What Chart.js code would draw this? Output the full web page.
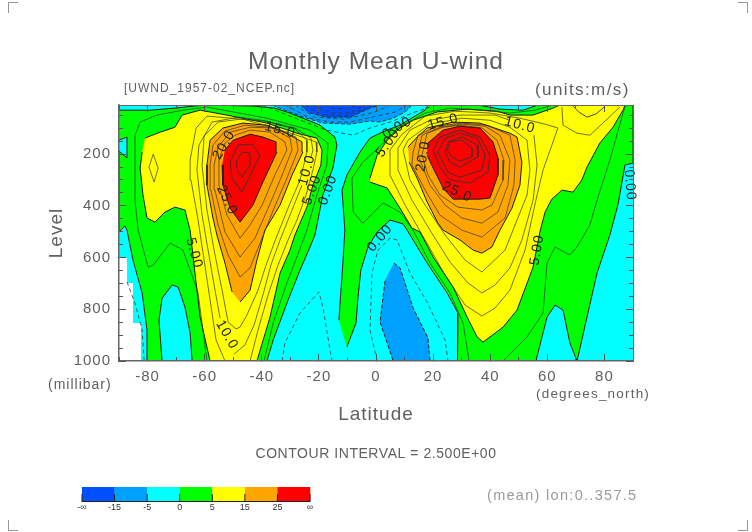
<!DOCTYPE html>
<html><head><meta charset="utf-8">
<style>
html,body{margin:0;padding:0;background:#fff;width:752px;height:532px;overflow:hidden}
#wrap{position:relative;width:752px;height:532px}
canvas{display:block}
.c{position:absolute;width:9px;height:10px;border:0 solid #999}
</style>
<script src="https://cdn.jsdelivr.net/npm/chart.js@4"></script>
</head><body><div id="wrap">
<canvas id="chart" width="752" height="532"></canvas>
<div class="c" style="left:8px;top:2px;border-left-width:1px;border-top-width:1px"></div>
<div class="c" style="left:738px;top:2px;border-right-width:1px;border-top-width:1px"></div>
<div class="c" style="left:8px;top:520px;border-left-width:1px;border-bottom-width:1px"></div>
<div class="c" style="left:738px;top:520px;border-right-width:1px;border-bottom-width:1px"></div>
</div>
<script>
// ---------- axis values ----------
const latLabels=[-80,-60,-40,-20,0,20,40,60,80];
const latMinor=[-90,-70,-50,-30,-10,10,30,50,70,90];
const levelLabels=[200,400,600,800,1000];
const levelMinor=[50,100,150,250,300,350,450,500,550,650,700,750,850,900,950];

// ---------- filled contour regions, [latitude, level] ----------
const cyanAll=[[-90,10],[90,10],[90,1000],[-90,1000]];
const missing=[[-90,602],[-87.2,602],[-87.2,698],[-85.1,698],[-85.1,853],[-82.3,853],[-82.3,1000],[-90,1000]];
const greenLeft=[[-90,30],[-79.1,30],[-70.4,22],[-59.9,10],[-43.1,14],[-35.4,22],[-30.1,41],[-19.6,88],[-14.4,134],[-13.7,165],[-15.1,254],[-18.6,358],[-21.4,513],[-23.1,559],[-26.6,648],[-31.2,776],[-36,919],[-38.2,1000],[-80.5,1000],[-80.2,880],[-81.9,737],[-85.1,610],[-87.2,494],[-87.9,478],[-90,501],[-90,188],[-87.2,215],[-87.2,134],[-90,146]];
const cyanArch=[[-74.9,1000],[-76,842],[-74.9,757],[-71.4,706],[-69.3,714],[-66.9,791],[-65.1,892],[-64.4,1000]];
const greenRight=[[-10.2,946],[-7,853],[-6.3,753],[-5.3,648],[-2.8,559],[0.4,501],[4.9,455],[9.5,470],[10.9,494],[17.9,621],[24.9,737],[28.7,814],[28.4,930],[28.7,1000],[56,1000],[59.9,830],[62.7,784],[65.5,803],[67.9,930],[70.4,1000],[73.9,830],[77.4,660],[81.9,513],[84.7,397],[87.2,242],[90,235],[90,10],[18.2,10],[17.2,30],[13,57],[8.4,88],[3.9,107],[1.4,119],[-2.1,138],[-5.6,192],[-10.2,281],[-11.9,339],[-10.9,494],[-11.6,621],[-13,842]];
const cyanLens=[[35.7,10],[43.4,26],[51.5,30],[55.7,14],[56.4,10]];
const yellowLeft=[[-80.9,138],[-75.6,115],[-70.4,96],[-67.9,49],[-61.6,30],[-52.2,49],[-38.2,80],[-27.7,119],[-20.7,138],[-18.9,184],[-19.3,242],[-22.1,320],[-24.2,405],[-28.4,513],[-30.1,571],[-33.6,660],[-37.1,830],[-41.7,1000],[-58.1,1000],[-61.6,830],[-63.4,660],[-65.1,494],[-66.9,416],[-70.4,405],[-73.9,424],[-77.4,463],[-80.2,447],[-81.6,358],[-82.6,254],[-81.9,192]];
const orangeLeft=[[-47.6,772],[-44.1,726],[-41.7,610],[-38.9,494],[-33.6,397],[-29.4,281],[-25.6,192],[-25.9,153],[-31.2,119],[-38.2,88],[-46.6,80],[-53.6,99],[-58.1,146],[-59.2,242],[-59.2,320],[-57.1,447],[-55.7,513],[-52.9,621],[-50.4,733]];
const redLeft=[[-53.9,242],[-53.6,320],[-51.1,409],[-47.6,463],[-43.1,397],[-39.6,308],[-34.7,192],[-35,153],[-39.6,134],[-44.1,123],[-50,146],[-52.9,184]];
const yellowRight=[[-2.1,293],[0.4,204],[3.9,146],[8.4,99],[13,69],[21.4,37],[31.9,26],[42.4,34],[46.9,49],[55,49],[62,22],[64.4,10],[87.2,10],[86.5,30],[83,96],[78.4,157],[73.9,250],[72.1,300],[69,347],[65.1,339],[61.6,374],[59.2,424],[57.4,501],[55,637],[49.4,803],[44.5,869],[37.5,927],[35.4,907],[31.9,830],[27,714],[20,598],[15.4,501],[12.6,486],[8.4,409],[3.9,331],[-2.1,308]];
const orangeRight=[[11.2,173],[14.4,134],[17.9,99],[27,76],[36.4,80],[46.9,119],[49.4,134],[51.1,231],[50.4,320],[47.6,409],[43.4,494],[40.6,559],[37.1,583],[34,571],[29.4,532],[23.5,494],[21.7,467],[17.9,385],[14.4,293],[11.6,231]];
const redRight=[[17.9,173],[18.2,157],[23.5,107],[29.4,92],[36.4,99],[41,153],[42.7,215],[42.7,281],[39.9,370],[36.4,374],[27,374],[23.5,331],[20,254],[17.9,204]];
const azureLow=[[6.3,621],[8.4,640],[13,795],[18.2,911],[18.9,1000],[6,1000],[3.9,930],[1.4,849],[3.2,687]];
const azureTop=[[-36.4,10],[-34.7,18],[-25.6,57],[-18.6,80],[-9.1,84],[-2.1,72],[1.4,76],[6,61],[10.2,37],[12.6,10]];
const blueTop=[[-26.6,10],[-23.1,41],[-17.2,57],[-9.1,57],[-2.1,22],[1.4,10]];

// ---------- contour lines, [latitude, level] ----------
const c25L=[[-59.2,1000],[-62.3,737],[-65.1,648],[-67.6,571],[-72.1,544],[-78,629],[-79.8,637],[-83.3,494],[-84.4,378],[-84.4,127],[-82.6,76],[-76.7,49],[-67.6,30],[-59.2,18],[-38.2,61],[-23.1,107],[-16.8,157],[-17.2,242],[-20.7,358],[-24.2,494],[-27.7,598],[-31.2,698],[-36,853],[-39.2,1000]];
const c75Lens=[[-79.5,250],[-78,200],[-76.3,254],[-77.7,308],[-79.5,250]];
const c75L=[[-52.9,1000],[-56,919],[-58.1,764],[-60.2,610],[-62.3,455],[-64.8,300],[-65.1,223],[-63,99],[-59.2,53],[-46.6,65],[-38.9,88],[-27.7,127],[-21,153],[-20.7,192],[-22.1,262],[-24.5,358],[-27.7,455],[-30.8,532],[-34.3,629],[-37.8,745],[-41.3,880],[-44.1,1000]];
const c10La=[[-54.6,834],[-56.7,706],[-58.8,571],[-60.9,436],[-62.7,262],[-62,165],[-57.4,76],[-48.3,57],[-39.9,69],[-28.4,99],[-22.8,138],[-22.1,184],[-22.8,215]];
const c10Lb=[[-25.9,320],[-29.4,416],[-33.6,532],[-36.8,629],[-39.6,745],[-42.7,861],[-45.9,938],[-49.7,973]];
const c125L=[[-49,876],[-51.8,849],[-53.9,726],[-56.7,571],[-59.2,416],[-60.9,246],[-60.2,130],[-55.3,76],[-47.6,65],[-38.9,72],[-28.4,103],[-24.2,146],[-24.2,192],[-26.6,300],[-30.8,409],[-35,525],[-38.5,629],[-41.3,726],[-45.2,822],[-47.6,869],[-49,876]];
const c175L=[[-47.6,675],[-51.8,590],[-55.3,474],[-57.8,339],[-58.1,242],[-57.1,165],[-52.9,111],[-45.9,88],[-37.1,96],[-28,134],[-27.3,184],[-31.2,293],[-35.7,409],[-39.9,525],[-44.1,640],[-47.6,675]];
const c20L=[[-47.6,598],[-52.9,501],[-56.4,339],[-56.7,242],[-55.3,173],[-51.1,115],[-44.1,96],[-36.4,99],[-30.1,138],[-29.4,184],[-33.3,293],[-37.8,409],[-42.4,525],[-47.6,598]];
const c225L=[[-47.6,525],[-52.2,436],[-55,320],[-55,223],[-52.9,157],[-49.4,127],[-44.1,107],[-37.1,115],[-31.9,153],[-31.2,184],[-35.4,281],[-39.9,397],[-44.1,474],[-47.6,525]];
const c275L=[[-51.1,231],[-50.4,293],[-46.9,347],[-40.6,204],[-43.4,161],[-48.3,165],[-51.1,231]];
const c30L=[[-49,231],[-48.3,270],[-46.9,289],[-44.1,242],[-44.1,196],[-46.9,192],[-49,231]];
const c25R1=[[32.6,1000],[30.5,853],[25.9,737],[18.9,621],[13,494],[8.4,424],[2.5,389],[-4.6,467],[-8,424],[-8.4,293],[-4.6,231],[-1.1,196],[2.5,157],[7.7,99],[17.2,41],[25.9,22],[36.4,30],[46.9,41],[55.7,30],[62,10]];
const c25R2=[[44.5,1000],[52.9,907],[58.5,814],[59.9,621],[62.7,559],[67.9,590],[70.4,559],[74.9,474],[77.4,378],[81.9,223],[86.5,41],[87.5,10]];
const c75R=[[37.1,826],[31.2,784],[24.2,668],[17.2,532],[10.2,397],[4.9,281],[4.9,184],[9.1,123],[17.2,53],[27.7,34],[39.9,41],[50.4,61],[59.2,84],[63.7,99],[58.5,262],[56,378],[52.2,571],[46.9,726],[41.7,795],[37.1,826]];
const c75Arc=[[65.1,18],[65.5,88],[70.4,119],[74.9,127],[80.9,65],[85.4,18]];
const c10Arc=[[68.6,10],[71,37],[73.9,57],[77,45],[79.5,22],[80.5,10]];
const c10R=[[55.3,127],[56.4,242],[55,378],[51.1,532],[46.9,640],[41.7,706],[37.1,737],[32.2,698],[25.9,617],[18.9,494],[12.6,378],[7.7,262],[7.7,177],[11.9,107],[18.9,69],[29.4,49],[41.7,49],[46.9,69]];
const c125R=[[9.5,184],[11.2,146],[18.9,84],[30.1,61],[39.9,69],[46.9,96],[52.9,146],[53.9,262],[52.9,358],[48.7,474],[45.2,571],[37.1,656],[31.2,610],[24.2,513],[17.2,397],[11.9,300],[9.5,184]];
const c175R=[[13,192],[14.7,127],[21.4,92],[30.1,80],[38.9,88],[46.9,127],[48.7,223],[48.3,320],[45.2,447],[37.1,521],[30.1,494],[22.4,436],[17.2,339],[12.6,242],[13,192]];
const c20R=[[14.7,204],[16.1,127],[22.4,96],[30.1,84],[38.2,92],[43.4,127],[46.9,223],[46.2,320],[42.7,424],[37.1,467],[30.1,447],[24.2,397],[18.9,320],[14.7,204]];
const c225R=[[16.1,204],[17.9,119],[23.5,96],[29.4,88],[37.1,99],[42.4,146],[44.8,223],[44.5,300],[40.6,397],[37.1,416],[28.7,405],[22.4,358],[18.2,281],[16.1,204]];
const c275R=[[20,184],[22.4,134],[29.4,107],[36.4,134],[39.9,204],[39.2,270],[32.9,312],[25.9,300],[22.4,250],[20,184]];
const c30R=[[21.7,192],[24.2,138],[29.4,119],[35.4,138],[38.2,204],[37.1,262],[29.4,289],[25.2,270],[21.7,192]];
const c325R=[[24.2,192],[25.2,153],[30.1,134],[35.4,165],[35.7,211],[29.4,250],[25.9,231],[24.2,192]];
const c35R=[[24.9,184],[25.9,153],[30.1,146],[33.6,177],[33.6,211],[29.4,227],[26.6,211],[24.9,184]];

// ---------- dashed (negative) contour lines ----------
const dashA=[[-32.9,1000],[-31.9,930],[-26.6,814],[-20,733],[-18.6,791],[-16.1,957],[-15.4,1000]];
const dashB=[[-87.2,694],[-84.4,776],[-81.9,880],[-81.2,1000]];
const dashC=[[0.4,1000],[-2.1,880],[-1.4,660],[0.7,571],[4.9,525],[7.4,532],[11.9,660],[17.9,772],[24.2,919],[25.2,1000]];
const dashM25=[[-39.9,10],[-30.1,53],[-17.5,107],[-8,127],[-2.1,99],[4.9,76],[13.7,37],[18.9,18]];
const dashM75=[[-31.9,10],[-23.1,61],[-16.1,76],[-9.1,76],[-1.4,57],[6.7,37],[10.9,10]];
const dashM10=[[-28.4,10],[-21.4,57],[-10.9,65],[-0.4,37],[4.9,10]];
const dashM125=[[-24.9,10],[-19.6,45],[-10.9,53],[-2.8,22],[-1,10]];
const dashM175=[[-22.4,10],[-16.1,41],[-9.1,41],[-3.9,10]];
const dashM20=[[-17.9,10],[-14.4,26],[-9.1,22],[-6.7,10]];

// ---------- contour labels ----------
const labelText=["20.0","15.0","25.0","10.0","5.00","0.00","5.00","10.0","0.00","5.00","0.00","15.0","20.0","25.0","10.0","0.00","5.00"];
const labelLat=[-53.2,-33.6,-52.2,-24.2,-22.4,-16.8,-63.7,-52.2,1.4,4.2,7.4,23.5,16.5,28.4,50.4,88.9,56.4];
const labelLevel=[165,107,378,262,339,339,583,899,525,157,99,76,208,347,88,320,571];
const labelAngle=[-60,15,65,-75,-70,-70,75,60,-50,-55,-30,-15,-80,25,15,85,-80];

// ---------- colour key ----------
const keyColors=["#0050ff","#00a0ff","#00ffff","#00ff00","#ffff00","#ffa500","#ff0000"];
const keyLabels=["-∞","-15","-5","0","5","15","25","∞"];

const BLUE=keyColors[0],AZURE=keyColors[1],CYAN=keyColors[2],GREEN=keyColors[3],YELLOW=keyColors[4],ORANGE=keyColors[5],RED=keyColors[6];
const pts=a=>a.map(([x,y])=>({x,y}));
const base={showLine:true,pointRadius:0,pointHoverRadius:0,tension:0};
const region=(d,c,o={})=>({...base,data:pts(d),fill:'shape',backgroundColor:c,borderColor:'#1a1a1a',borderWidth:1,...o});
const line=(d,w=0.7)=>({...base,data:pts(d),fill:false,borderColor:'#333',borderWidth:w});
const dash=d=>({...base,data:pts(d),fill:false,borderColor:'#333',borderWidth:0.8,borderDash:[4,3]});

const layers=[
 region(cyanAll,CYAN,{borderWidth:0}),
 region(missing,'#ffffff',{borderWidth:0}),
 region(greenLeft,GREEN),region(cyanArch,CYAN),region(greenRight,GREEN),region(cyanLens,CYAN),
 region(yellowLeft,YELLOW),region(yellowRight,YELLOW),
 region(orangeLeft,ORANGE),region(orangeRight,ORANGE),
 region(redLeft,RED),region(redRight,RED),
 region(azureLow,AZURE,{borderDash:[4,2]}),region(azureTop,AZURE,{borderDash:[4,2],borderWidth:.8}),region(blueTop,BLUE,{borderDash:[4,2],borderWidth:.8}),
 ...[c25L,c75Lens,c75L,c10La,c10Lb,c125L,c175L,c20L,c225L,c25R1,c25R2,c75R,c75Arc,c10R,c125R,c175R,c20R,c225R].map(d=>line(d)),
 ...[c10Arc,c275L,c30L,c275R,c30R,c325R,c35R].map(d=>line(d,0.9)),
 ...[dashA,dashB,dashC,dashM25,dashM75,dashM10,dashM125,dashM175,dashM20].map(dash)
];

const TXT='#606060';
const notes=[
 ["[UWND_1957-02_NCEP.nc]",124,89,12,"left",TXT,1],
 ["(units:m/s)",535,90,17,"left",TXT,1.4],
 ["(millibar)",48,385,14,"left",TXT,1],
 ["(degrees_north)",536,394,13.5,"left",TXT,1.2],
 ["CONTOUR INTERVAL = 2.500E+00",376,454,14,"center",TXT,0.55],
 ["(mean) lon:0..357.5",487,496,14.5,"left","#9a9a9a",1.3]
];
const FF='"Liberation Sans",sans-serif';

const furniture={id:'furniture',
 beforeDraw(c){c.ctx.letterSpacing='1px';},
 afterDatasetsDraw(c){
  const ctx=c.ctx,sx=c.scales.x,sy=c.scales.y;
  ctx.save();ctx.fillStyle='#222';ctx.font='14px '+FF;ctx.textAlign='center';ctx.textBaseline='middle';
  labelText.forEach((t,i)=>{ctx.save();ctx.translate(sx.getPixelForValue(labelLat[i]),sy.getPixelForValue(labelLevel[i]));ctx.rotate(labelAngle[i]*Math.PI/180);ctx.fillText(t,0,0);ctx.restore();});
  ctx.restore();
 },
 afterDraw(c){
  const ctx=c.ctx;ctx.save();
  ctx.textBaseline='middle';
  notes.forEach(([t,x,y,s,a,col,sp])=>{ctx.font=s+'px '+FF;ctx.textAlign=a;ctx.fillStyle=col;ctx.letterSpacing=sp+'px';ctx.fillText(t,x,y);});
  ctx.letterSpacing='0px';
  const x0=82,w=228/keyColors.length,y0=487,h=15;
  keyColors.forEach((k,i)=>{ctx.fillStyle=k;ctx.fillRect(x0+i*w,y0,w+.3,h);});
  ctx.strokeStyle='#222';ctx.lineWidth=1;ctx.beginPath();ctx.moveTo(x0,y0+h-.5);ctx.lineTo(x0+228,y0+h-.5);
  ctx.fillStyle='#333';ctx.font='9px '+FF;ctx.textAlign='center';
  keyLabels.forEach((t,i)=>{const x=x0+i*w;ctx.moveTo(x,y0+h-8);ctx.lineTo(x,y0+h);ctx.fillText(t,x,y0+h+6);});
  ctx.stroke();ctx.restore();
 }
};

const tickAxis=(axis,pos,vals,len,border,bounds,size=0,weight=0)=>({type:'linear',position:pos,axis,min:bounds[0],max:bounds[1],reverse:axis==='y',weight,
 afterBuildTicks(s){s.ticks=vals.map(value=>({value}));},
 afterFit(s){if(axis==='x')s.height=size;else s.width=size;},
 ticks:{display:false,autoSkip:false},
 grid:{z:1,drawOnChartArea:false,drawTicks:true,tickLength:-len,color:'#555',lineWidth:1},
 border:{display:border,color:'#666',width:1,z:1}});

new Chart(document.getElementById('chart'),{
 type:'scatter',
 data:{datasets:layers.slice().reverse()},
 plugins:[furniture],
 options:{
  responsive:false,animation:false,devicePixelRatio:1,
  layout:{padding:{left:0,right:0,top:0,bottom:105.6}},
  plugins:{
   legend:{display:false},tooltip:{enabled:false},
   title:{display:true,text:'Monthly Mean U-wind',color:TXT,font:{family:FF,size:24.5,weight:'normal',lineHeight:1.2},padding:{top:48,bottom:27.6}},
   filler:{propagate:false}
  },
  scales:{
   x:{type:'linear',position:'bottom',min:-90,max:90,weight:10,
    afterBuildTicks(s){s.ticks=latLabels.map(value=>({value}));},
    afterFit(s){s.height=65.4;},
    ticks:{autoSkip:false,maxRotation:0,color:TXT,font:{family:FF,size:15},padding:14,callback:v=>String(v)},
    grid:{z:1,drawOnChartArea:false,tickLength:-7,color:'#555'},
    border:{color:'#666',width:1.5,z:1},
    title:{display:true,text:'Latitude',color:TXT,font:{family:FF,size:19},padding:0}},
   y:{type:'linear',position:'left',reverse:true,min:10,max:1000,weight:10,
    afterBuildTicks(s){s.ticks=levelLabels.map(value=>({value}));},
    afterFit(s){s.width=119;},
    ticks:{autoSkip:false,color:TXT,font:{family:FF,size:15},padding:15,callback:v=>String(v)},
    grid:{z:1,drawOnChartArea:false,tickLength:-7,color:'#555'},
    border:{color:'#666',width:1.5,z:1},
    title:{display:true,text:'Level',color:TXT,font:{family:FF,size:19},padding:{top:45.6,bottom:0}}},
   xMinor:tickAxis('x','bottom',latMinor,4,false,[-90,90]),
   yMinor:tickAxis('y','left',levelMinor,4,false,[10,1000]),
   xTop:tickAxis('x','top',latLabels,7,true,[-90,90]),
   xTopMinor:tickAxis('x','top',latMinor,4,false,[-90,90]),
   yRight:tickAxis('y','right',levelLabels,7,true,[10,1000],119,10),
   yRightMinor:tickAxis('y','right',levelMinor,4,false,[10,1000])
  }
 }
});
</script></body></html>
